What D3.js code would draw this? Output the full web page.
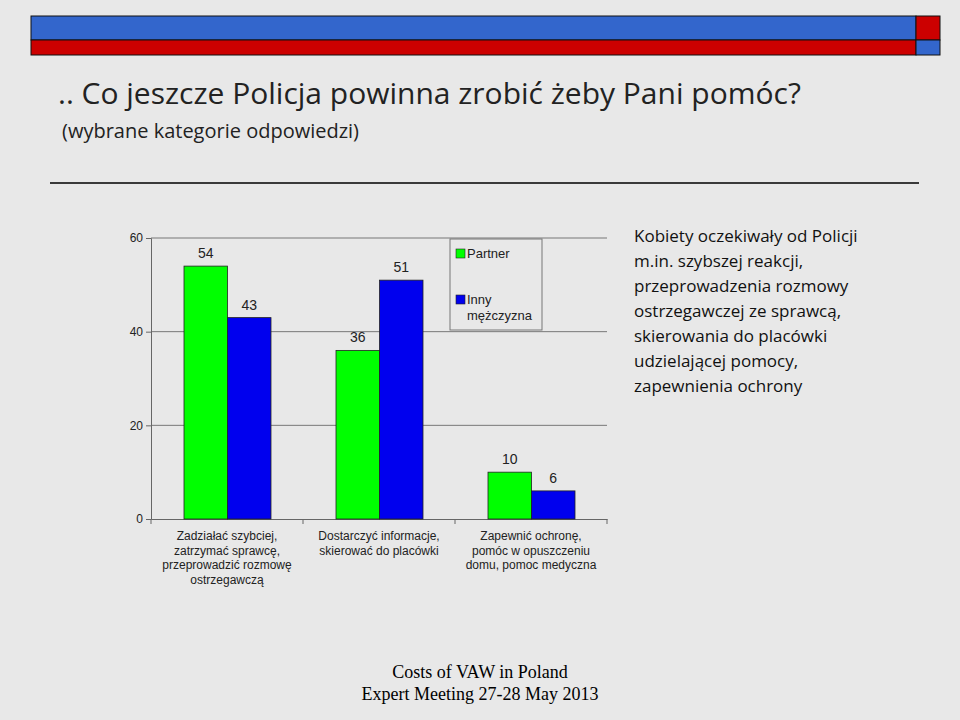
<!DOCTYPE html>
<html><head><meta charset="utf-8">
<script src="https://cdn.jsdelivr.net/npm/d3@7"></script>
<style>body{margin:0;background:#e8e8e8}svg{display:block}</style>
</head><body>
<svg id="c" width="960" height="720"></svg>
<script>
const categories = [
  ["Zadziałać szybciej,", "zatrzymać sprawcę,", "przeprowadzić rozmowę", "ostrzegawczą"],
  ["Dostarczyć informacje,", "skierować do placówki"],
  ["Zapewnić ochronę,", "pomóc w opuszczeniu", "domu, pomoc medyczna"]
];
const partner = [54, 36, 10];
const inny = [43, 51, 6];
const yTicks = [0, 20, 40, 60];
const noteLines = ["Kobiety oczekiwały od Policji", "m.in. szybszej reakcji,", "przeprowadzenia rozmowy",
  "ostrzegawczej ze sprawcą,", "skierowania do placówki", "udzielającej pomocy,", "zapewnienia ochrony"];

const svg = d3.select("#c");
svg.append("rect").attr("width", 960).attr("height", 720).attr("fill", "#e8e8e8");

// header bars
svg.append("rect").attr("x", 31).attr("y", 16).attr("width", 885).attr("height", 24).attr("fill", "#3366cc").attr("stroke", "#111");
svg.append("rect").attr("x", 31).attr("y", 40).attr("width", 885).attr("height", 15).attr("fill", "#cc0000").attr("stroke", "#111");
svg.append("rect").attr("x", 916).attr("y", 16).attr("width", 24).attr("height", 24).attr("fill", "#cc0000").attr("stroke", "#111");
svg.append("rect").attr("x", 916).attr("y", 40).attr("width", 24).attr("height", 15).attr("fill", "#3366cc").attr("stroke", "#111");

svg.append("text").attr("x", 58).attr("y", 104).attr("font-family", "Open Sans, sans-serif").attr("font-size", 30).attr("fill", "#222")
  .text(".. Co jeszcze Policja powinna zrobić żeby Pani pomóc?");
svg.append("text").attr("x", 62).attr("y", 138).attr("font-family", "Open Sans, sans-serif").attr("font-size", 20).attr("fill", "#222")
  .text("(wybrane kategorie odpowiedzi)");
svg.append("line").attr("x1", 50).attr("x2", 919).attr("y1", 183).attr("y2", 183).attr("stroke", "#000").attr("stroke-width", 1.5);

// chart
const x0 = 151, x1 = 607, yT = 238, yB = 519;
const x = d3.scaleBand().domain(d3.range(3)).range([x0, x1]);
const y = d3.scaleLinear().domain([0, 60]).range([yB, yT]);
const g = svg.append("g").attr("font-family", "Liberation Sans, Arial, sans-serif");
g.selectAll(".grid").data(yTicks.filter(d => d > 0)).join("line")
  .attr("x1", x0).attr("x2", x1).attr("y1", d => y(d)).attr("y2", d => y(d)).attr("stroke", "#777");
g.append("g").attr("transform", `translate(${x0},0)`)
  .call(d3.axisLeft(y).tickValues(yTicks).tickSize(5).tickFormat(d3.format("d")))
  .call(a => a.selectAll("text").attr("font-size", 12).attr("fill", "#222").attr("font-family", "Liberation Sans, Arial, sans-serif"))
  .call(a => a.selectAll("path,line").attr("stroke", "#666"));
g.append("g").attr("transform", `translate(0,${yB})`)
  .call(d3.axisBottom(x).tickSize(0).tickFormat(""))
  .call(a => a.select("path").attr("stroke", "#666"));
g.selectAll(".sep").data(d3.range(4)).join("line")
  .attr("x1", i => x0 + i * x.bandwidth()).attr("x2", i => x0 + i * x.bandwidth())
  .attr("y1", yB).attr("y2", yB + 5).attr("stroke", "#666");

const bw = 43.5, off = 33;
const series = [{vals: partner, color: "#00ff00", dx: off}, {vals: inny, color: "#0000ee", dx: off + bw}];
series.forEach(s => {
  g.selectAll(null).data(s.vals).join("rect")
    .attr("x", (d, i) => x(i) + s.dx).attr("width", bw)
    .attr("y", d => y(d)).attr("height", d => yB - y(d))
    .attr("fill", s.color).attr("stroke", "#222").attr("stroke-width", 0.8);
  g.selectAll(null).data(s.vals).join("text")
    .attr("x", (d, i) => x(i) + s.dx + bw / 2).attr("y", d => y(d) - 8)
    .attr("text-anchor", "middle").attr("font-size", 14).attr("fill", "#222").text(d => d);
});
categories.forEach((lines, i) => {
  lines.forEach((t, j) => g.append("text").attr("x", x(i) + x.bandwidth() / 2).attr("y", 540 + j * 14.5)
    .attr("text-anchor", "middle").attr("font-size", 12).attr("fill", "#222").text(t));
});

// legend
const lg = g.append("g");
lg.append("rect").attr("x", 450).attr("y", 239).attr("width", 92).attr("height", 91).attr("fill", "#e8e8e8").attr("stroke", "#777");
[["Partner"], ["Inny", "mężczyzna"]].forEach((lab, i) => {
  const yy = 249 + i * 46;
  lg.append("rect").attr("x", 456).attr("y", yy).attr("width", 9).attr("height", 9).attr("fill", series[i].color).attr("stroke", "#222").attr("stroke-width", 0.6);
  lab.forEach((t, j) => lg.append("text").attr("x", 467).attr("y", yy + 9 + j * 16).attr("font-size", 13).attr("fill", "#222").text(t));
});

// note text
noteLines.forEach((t, i) => svg.append("text").attr("x", 634).attr("y", 242 + i * 25)
  .attr("font-family", "Open Sans, sans-serif").attr("font-size", 17).attr("fill", "#111").text(t));

// footer
[["Costs of VAW in Poland", 678], ["Expert Meeting 27-28 May 2013", 700]].forEach(([t, yy]) =>
  svg.append("text").attr("x", 480).attr("y", yy).attr("text-anchor", "middle")
    .attr("font-family", "Liberation Serif, serif").attr("font-size", 18).attr("fill", "#000").text(t));
</script>
</body></html>
